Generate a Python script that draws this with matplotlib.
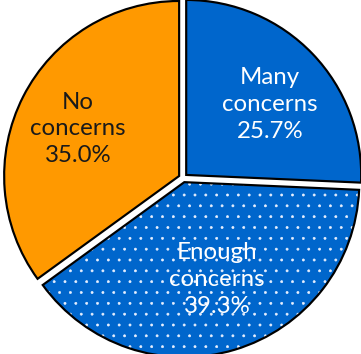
import matplotlib
matplotlib.use("Agg")
import matplotlib.pyplot as plt

plt.rcParams["hatch.linewidth"] = 0.35

categories = ["Many\nconcerns", "Enough\nconcerns", "No\nconcerns"]
values = [25.7, 39.3, 35.0]
colors = ["#0066CC", "#0066CC", "#FF9900"]
text_colors = ["white", "white", "#1a1a1a"]
hatches = [None, "..", None]
explode = [0.025, 0.025, 0.025]
label_xy = [(0.497, 0.42), (0.194, -0.58), (-0.60, 0.28)]

DPI = 130
fig = plt.figure(figsize=(361 / DPI, 354 / DPI), dpi=DPI)
ax = fig.add_axes([0, 0, 1, 1])

labels = [f"{c}\n{v:.1f}%" for c, v in zip(categories, values)]

# fill layer (hatch drawn in white)
wedges, texts = ax.pie(values, colors=colors, startangle=90, counterclock=False,
                       explode=explode, labels=labels, labeldistance=0.64,
                       wedgeprops=dict(edgecolor="#e8f0ff", linewidth=0),
                       textprops=dict(fontsize=13.3, family="Lato",
                                      ha="center", va="center", linespacing=1.33))
for w, h in zip(wedges, hatches):
    if h:
        w.set_hatch(h)
for t, c, xy in zip(texts, text_colors, label_xy):
    t.set_color(c)
    t.set_horizontalalignment("center")
    t.set_verticalalignment("center")
    t.set_multialignment("center")
    t.set_position(xy)

# outline layer
ax.pie(values, startangle=90, counterclock=False, explode=explode,
       wedgeprops=dict(facecolor="none", edgecolor="black", linewidth=1.2))

ax.set_xlim(-1.046, 1.017)
ax.set_ylim(-1.006, 1.017)
ax.set_aspect("equal")
ax.axis("off")

fig.savefig("out.png", dpi=DPI)
